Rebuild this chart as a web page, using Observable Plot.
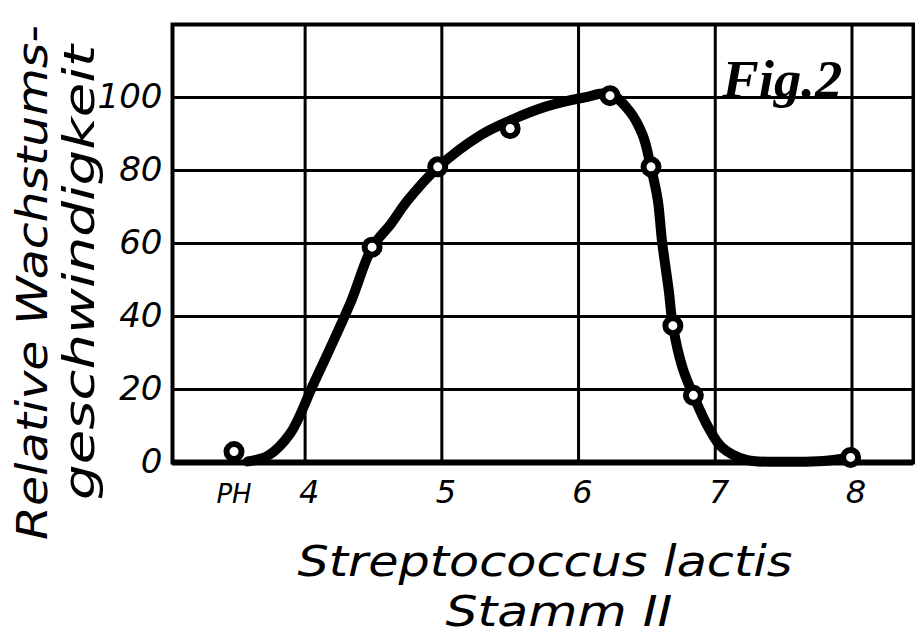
<!DOCTYPE html>
<html>
<head>
<meta charset="utf-8">
<script src="https://cdn.jsdelivr.net/npm/d3@7"></script>
<script src="https://cdn.jsdelivr.net/npm/@observablehq/plot@0.6"></script>
<style>
  html, body { margin: 0; padding: 0; background: #fff; }
</style>
</head>
<body>
<div id="chart"></div>
<script>
// ---- data ----
const curvePH    = [3.58, 3.73, 3.89, 4.06, 4.33, 4.49, 4.63, 4.75, 4.97, 5.28, 5.50, 5.76, 6.04, 6.23, 6.37, 6.47, 6.53, 6.58, 6.61, 6.66, 6.69, 6.76, 6.84, 6.95, 7.05, 7.22, 7.54, 7.79, 7.99];
const curveValue = [0.3,  1.9,  7.9,  21.4, 43.6, 58.9, 65.5, 71.8, 80.8, 89.6, 93.7, 97.5, 100,  101,  96.4, 89.6, 80.8, 71.8, 60.8, 47.1, 37.5, 26.0, 18.4, 9.6,  4.1,  0.8,  0.2,  0.4,  1.4];
const pointPH    = [3.48, 4.49, 4.97, 5.50, 6.23, 6.53, 6.69, 6.84, 7.99];
const pointValue = [3,    59,   81,   91.5, 100.5, 81,  37.5, 18.4, 1.4];
const xTicks      = [4, 5, 6, 7, 8];
const xTickLabels = ["4", "5", "6", "7", "8"];
const yTicks      = [0, 20, 40, 60, 80, 100];
const yTickLabels = ["0", "20", "40", "60", "80", "100"];
const yGrid       = [20, 40, 60, 80, 100];
const xUnitLabel  = [{pH: 3.48, text: "PH"}];
const figLabel    = [{pH: 7.49, value: 100, text: "Fig.2"}];
const yTitle1 = "Relative Wachstums-";
const yTitle2 = "geschwindigkeit";
const xTitle1 = "Streptococcus lactis";
const xTitle2 = "Stamm II";

// ---- tables ----
const curve  = curvePH.map((p, i) => ({pH: p, value: curveValue[i]}));
const points = pointPH.map((p, i) => ({pH: p, value: pointValue[i]}));

const hand = "DejaVu Sans";
const chart = Plot.plot({
  width: 915,
  height: 635,
  marginLeft: 172,
  marginRight: 2,
  marginTop: 24,
  marginBottom: 173,
  style: {background: "white", color: "black"},
  x: {domain: [3.03, 8.45], axis: null},
  y: {domain: [0, 120], axis: null},
  marks: [
    Plot.ruleX(xTicks, {x: d => d, stroke: "black", strokeWidth: 3}),
    Plot.ruleY(yGrid, {y: d => d, stroke: "black", strokeWidth: 3}),
    Plot.frame({stroke: "black", strokeWidth: 4}),
    Plot.ruleY([0], {y: d => d, stroke: "black", strokeWidth: 6}),
    // tick labels
    Plot.text(yTicks, {y: d => d, text: (d, i) => yTickLabels[i], frameAnchor: "left", dx: -10, textAnchor: "end",
      fontSize: 34, fontStyle: "italic", fontFamily: hand, fill: "black"}),
    Plot.text(xTicks, {x: d => d, text: (d, i) => xTickLabels[i], frameAnchor: "bottom", dx: 4, dy: 40,
      fontSize: 32, fontStyle: "italic", fontFamily: hand, fill: "black"}),
    Plot.text(xUnitLabel, {x: "pH", text: "text", frameAnchor: "bottom", dy: 40,
      fontSize: 26, fontStyle: "italic", fontFamily: hand, fill: "black"}),
    // curve and observations
    Plot.line(curve, {x: "pH", y: "value", curve: "catmull-rom", stroke: "black", strokeWidth: 10,
      strokeLinecap: "round", strokeLinejoin: "round"}),
    Plot.dot(points, {x: "pH", y: "value", r: 7.5, fill: "white", stroke: "black", strokeWidth: 6}),
    // figure label
    Plot.text(figLabel, {x: "pH", y: "value", text: "text", lineAnchor: "bottom", dy: -1,
      fontSize: 52, fontStyle: "italic", fontWeight: "bold", fontFamily: "Liberation Serif", fill: "black"}),
    // axis titles
    Plot.text([yTitle1], {text: d => d, frameAnchor: "left", textAnchor: "middle", dx: -139, dy: 39, rotate: -90,
      fontSize: 42, fontStyle: "italic", fontFamily: hand, fill: "black"}),
    Plot.text([yTitle2], {text: d => d, frameAnchor: "left", textAnchor: "middle", dx: -92, dy: 29, rotate: -90,
      fontSize: 42, fontStyle: "italic", fontFamily: hand, fill: "black"}),
    Plot.text([xTitle1], {text: d => d, frameAnchor: "bottom", dx: 2, dy: 113, lineAnchor: "bottom",
      fontSize: 42, fontStyle: "italic", fontFamily: hand, fill: "black"}),
    Plot.text([xTitle2], {text: d => d, frameAnchor: "bottom", dx: 16, dy: 163, lineAnchor: "bottom",
      fontSize: 42, fontStyle: "italic", fontFamily: hand, fill: "black"})
  ]
});

// stretch the hand-lettered titles to the widths they have in the figure
const fitWidth = {[yTitle1]: 515, [yTitle2]: 455, [xTitle1]: 495, [xTitle2]: 227, "Fig.2": 120};
d3.select(chart).selectAll("text").each(function () {
  const t = this.textContent;
  if (fitWidth[t]) {
    this.setAttribute("textLength", fitWidth[t]);
    this.setAttribute("lengthAdjust", "spacingAndGlyphs");
  }
});
document.getElementById("chart").appendChild(chart);
</script>
</body>
</html>
